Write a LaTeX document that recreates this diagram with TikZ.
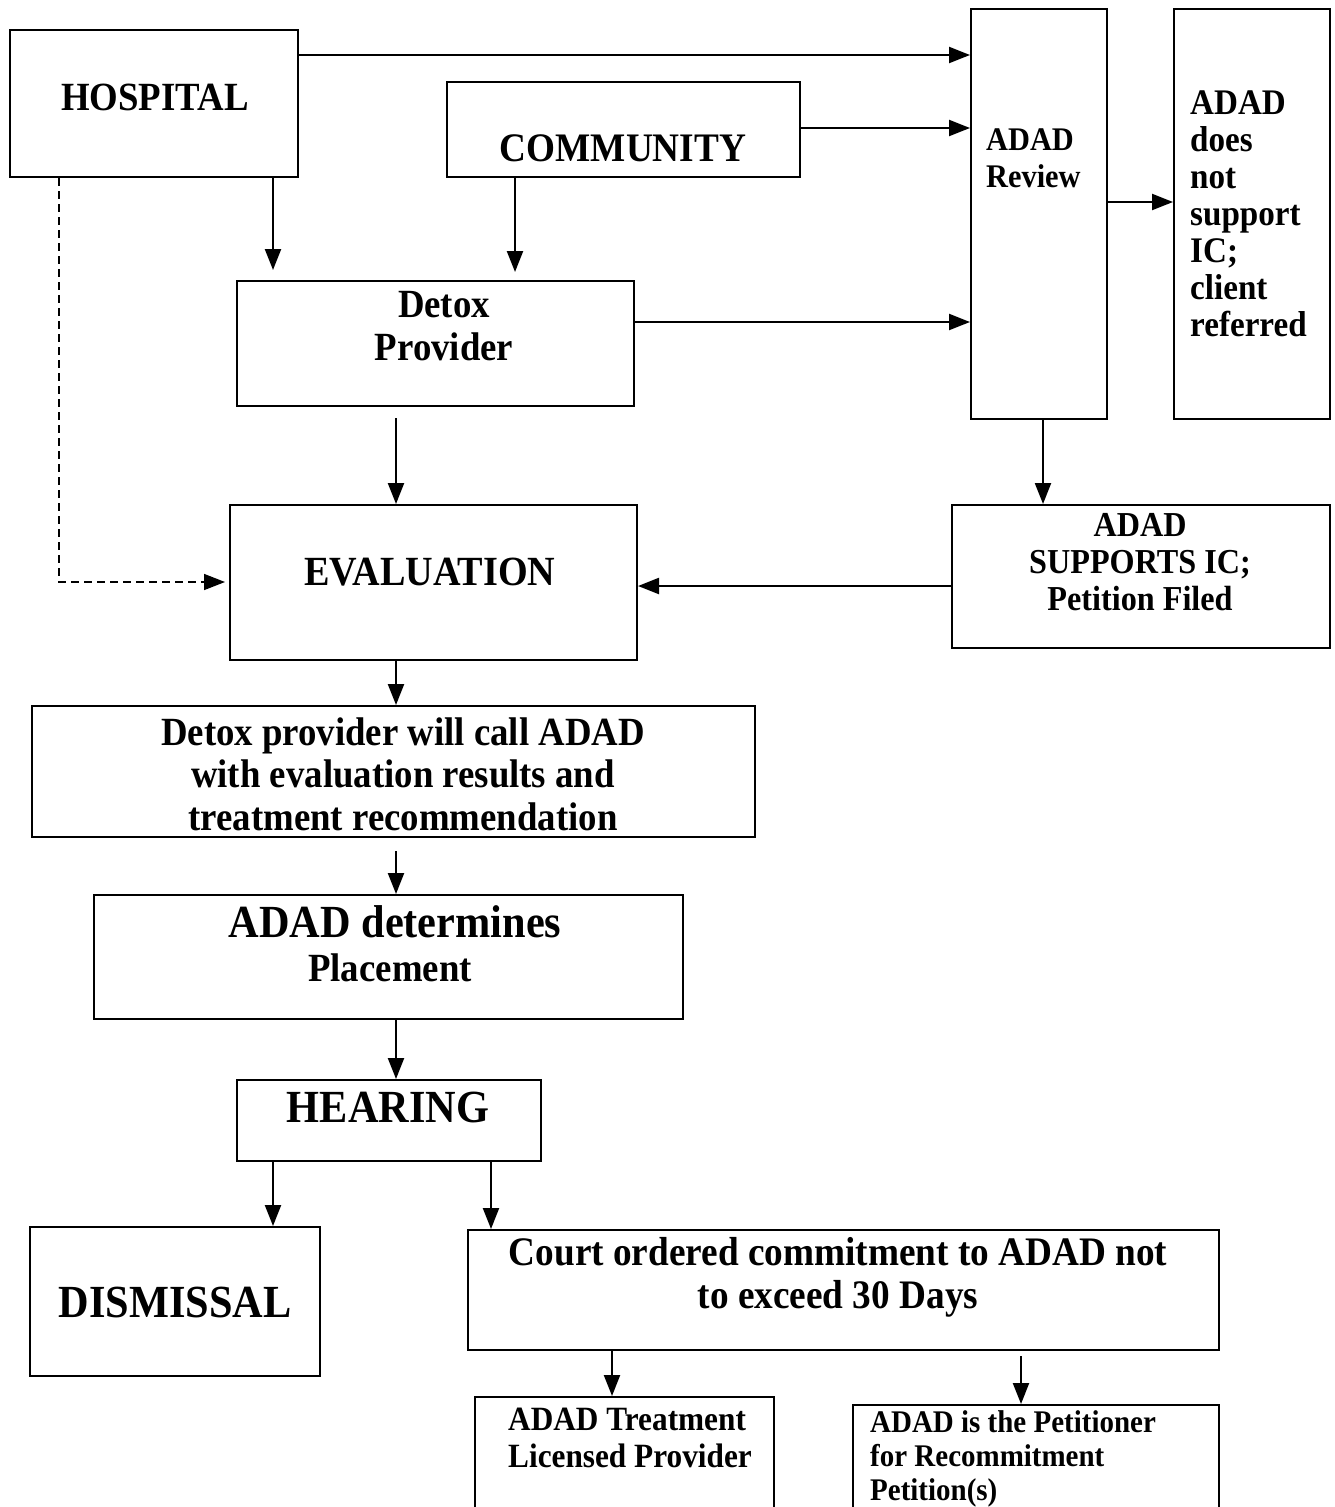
\documentclass[tikz,border=0pt]{standalone}
\usepackage{fontspec}
\setmainfont{Liberation Serif}[FakeStretch=0.92]
\usetikzlibrary{arrows.meta}
\newcommand{\fsz}[2]{\fontsize{#1}{#2}\selectfont}
\tikzset{
  box/.style={draw, line width=2pt, inner sep=0pt, rectangle},
  lbl/.style={inner sep=0pt},
  arr/.style={line width=2.2pt, -{Triangle[length=21pt,width=16pt]}},
  darr/.style={line width=1.6pt, dash pattern=on 8pt off 5pt, -{Triangle[length=21pt,width=16pt]}},
}
\begin{document}
\begin{tikzpicture}[x=1pt,y=-1pt]
\clip (0,0) rectangle (1335,1507);
\fill[white] (0,0) rectangle (1335,1507);

% boxes
\node[box, minimum width=288pt, minimum height=147pt] (hosp)   at (154,103.5) {};
\node[box, minimum width=353pt, minimum height=95pt]  (comm)   at (623.5,129.5) {};
\node[box, minimum width=136pt, minimum height=410pt] (review) at (1039,214) {};
\node[box, minimum width=156pt, minimum height=410pt] (notsup) at (1252,214) {};
\node[box, minimum width=397pt, minimum height=125pt] (detox)  at (435.5,343.5) {};
\node[box, minimum width=407pt, minimum height=155pt] (eval)   at (433.5,582.5) {};
\node[box, minimum width=378pt, minimum height=143pt] (supp)   at (1141,576.5) {};
\node[box, minimum width=723pt, minimum height=131pt] (call)   at (393.5,771.5) {};
\node[box, minimum width=589pt, minimum height=124pt] (determ) at (388.5,957) {};
\node[box, minimum width=304pt, minimum height=81pt]  (hear)   at (389,1120.5) {};
\node[box, minimum width=290pt, minimum height=149pt] (dism)   at (175,1301.5) {};
\node[box, minimum width=751pt, minimum height=120pt] (court)  at (843.5,1290) {};
\node[box, minimum width=299pt, minimum height=123pt] (treat)  at (624.5,1458.5) {};
\node[box, minimum width=366pt, minimum height=115pt] (petit)  at (1036,1462.5) {};

% texts
\node[lbl, font=\bfseries\fsz{40}{45}] (thosp) at (155,97) {HOSPITAL};
\node[lbl, font=\bfseries\fsz{40.5}{46}] (tcomm) at (623,148) {COMMUNITY};
\node[lbl, font=\bfseries\fsz{33}{37}, align=left, anchor=west] (treview) at (986,158) {ADAD\\Review};
\node[lbl, font=\bfseries\fsz{36}{37}, align=left, anchor=west] (tnotsup) at (1190,214) {ADAD\\does\\not\\support\\IC;\\client\\referred};
\node[lbl, font=\bfseries\fsz{40}{43}, align=center] (tdetox) at (444,326) {Detox\\Provider};
\node[lbl, font=\bfseries\fsz{41.5}{45}] (teval) at (430,572) {EVALUATION};
\node[lbl, font=\bfseries\fsz{35}{37}, align=center] (tsupp) at (1140,562) {ADAD\\SUPPORTS IC;\\Petition Filed};
\node[lbl, font=\bfseries\fsz{40}{42.5}, align=center] (tcall) at (403,774) {Detox provider will call ADAD\\with evaluation results and\\treatment recommendation};
\node[lbl, font=\bfseries\fsz{46}{50}] (tdet1) at (395,922) {ADAD determines};
\node[lbl, font=\bfseries\fsz{40}{46}] (tdet2) at (390,968) {Placement};
\node[lbl, font=\bfseries\fsz{46}{50}] (thear) at (388,1107) {HEARING};
\node[lbl, font=\bfseries\fsz{46}{50}] (tdism) at (175,1302) {DISMISSAL};
\node[lbl, font=\bfseries\fsz{40.5}{43}, align=center] (tcourt) at (838,1277) {Court ordered commitment to ADAD not\\to exceed 30 Days};
\node[lbl, font=\bfseries\fsz{34}{37}, align=left, anchor=west] (ttreat) at (508,1438) {ADAD Treatment\\Licensed Provider};
\node[lbl, font=\bfseries\fsz{31.5}{34}, align=left, anchor=west] (tpetit) at (870,1459) {ADAD is the Petitioner\\for Recommitment\\Petition(s)};

% connectors
\draw[arr] (hosp.east |- 0,55) -- (review.west |- 0,55);
\draw[arr] (comm.east |- 0,128) -- (review.west |- 0,128);
\draw[arr] (detox.east |- 0,322) -- (review.west |- 0,322);
\draw[arr] (review.east |- 0,202) -- (notsup.west |- 0,202);
\draw[arr, shorten >=10pt] (hosp.south -| 273,0) -- (detox.north -| 273,0);
\draw[arr, shorten >=8pt] (comm.south -| 515,0) -- (detox.north -| 515,0);
\draw[arr, shorten <=11pt] (detox.south -| 396,0) -- (eval.north -| 396,0);
\draw[darr, shorten >=4pt] (hosp.south -| 59,0) |- (eval.west |- 0,582);
\draw[arr] (review.south -| 1043,0) -- (supp.north -| 1043,0);
\draw[arr] (supp.west |- 0,586) -- (eval.east |- 0,586);
\draw[arr] (eval.south -| 396,0) -- (call.north -| 396,0);
\draw[arr, shorten <=13pt] (call.south -| 396,0) -- (determ.north -| 396,0);
\draw[arr] (determ.south -| 396,0) -- (hear.north -| 396,0);
\draw[arr] (hear.south -| 273,0) -- (dism.north -| 273,0);
\draw[arr] (hear.south -| 491,0) -- (court.north -| 491,0);
\draw[arr] (court.south -| 612,0) -- (treat.north -| 612,0);
\draw[arr, shorten <=5pt] (court.south -| 1021,0) -- (petit.north -| 1021,0);
\end{tikzpicture}
\end{document}
